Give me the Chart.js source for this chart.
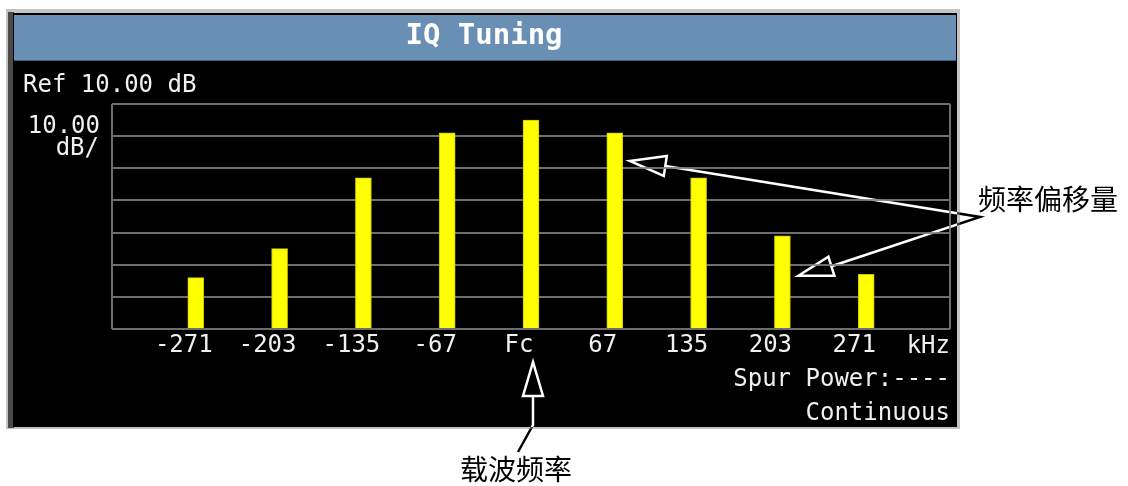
<!DOCTYPE html>
<html>
<head>
<meta charset="utf-8">
<script src="https://cdn.jsdelivr.net/npm/chart.js@4.4.1/dist/chart.umd.min.js"></script>
<style>
  html, body { margin: 0; padding: 0; background: #fff; }
  canvas { display: block; }
</style>
</head>
<body>
<canvas id="chart" width="1128" height="486"></canvas>
<script>
// ── DATA ──────────────────────────────────────────────────
const slots        = [1, 2, 3, 4, 5, 6, 7, 8, 9];
const offsetLabels = ["-271", "-203", "-135", "-67", "Fc", "67", "135", "203", "271"];
const levelsDb     = [-44, -35, -13, 1, 5, 1, -13, -31, -43];

const refLevel  = 10;   // Ref 10.00 dB
const dbPerDiv  = 10;   // 10.00 dB/
const divisions = 7;
const floorDb   = refLevel - dbPerDiv * divisions;

const MONO  = '"DejaVu Sans Mono", monospace';
const CJK   = '"Noto Sans CJK SC", sans-serif';
const GRID  = "#6e6e6e";
const TEXT  = "#f0f0f0";

// ── instrument screen frame + title ───────────────────────
const screenFrame = {
  id: "screenFrame",
  beforeDraw(chart) {
    const c = chart.ctx;
    c.save();
    c.fillStyle = "#ffffff";
    c.fillRect(0, 0, chart.width, chart.height);
    c.fillStyle = "#c4c4c4";
    c.fillRect(6, 9, 954, 420);
    c.fillStyle = "#4a4a4a";
    c.fillRect(8, 12, 6, 416);
    c.fillStyle = "#000000";
    c.fillRect(13, 13, 944, 414);
    c.fillStyle = "#6a8fb5";
    c.fillRect(14, 15, 942, 46);
    c.fillStyle = "#3d5f80";
    c.fillRect(14, 60, 942, 1);

    c.fillStyle = "#ffffff";
    c.font = "bold 29px " + MONO;
    c.textAlign = "center";
    c.textBaseline = "alphabetic";
    c.fillText("IQ Tuning", 484, 44);
    c.restore();
  },
  afterDraw(chart) {
    const c = chart.ctx;
    const area = chart.chartArea;
    const x = chart.scales.x, y = chart.scales.y;
    c.save();
    c.fillStyle = TEXT;
    c.font = "24px " + MONO;
    c.textBaseline = "alphabetic";
    c.textAlign = "left";
    c.fillText("Ref " + refLevel.toFixed(2) + " dB", 23, 92);
    c.textAlign = "right";
    c.fillText(dbPerDiv.toFixed(2), 100, 133);
    c.fillText("dB/", 99, 155);
    c.fillText("kHz", area.right, 353);
    c.fillText("Spur Power:----", area.right, 386);
    c.fillText("Continuous", area.right, 420);

    // callout labels
    c.fillStyle = "#000000";
    c.font = "28px " + CJK;
    c.textBaseline = "middle";
    c.textAlign = "left";
    const hub = { x: 980, y: 217 };
    c.fillText("频率偏移量", hub.x - 2, hub.y - 18);
    c.textAlign = "center";
    c.fillText("载波频率", 516, 469);

    // arrows, inverted against the background
    const px = v => x.getPixelForValue(v), py = v => y.getPixelForValue(v);
    const t1 = { x: px(6) + 15, y: py(levelsDb[5]) + 28 };
    const t2 = { x: px(8) + 16, y: py(levelsDb[7]) + 40 };
    const t3 = { x: px(5) + 2,  y: area.bottom + 33 };
    c.globalCompositeOperation = "difference";
    c.strokeStyle = "#ffffff";
    c.lineWidth = 2.5;
    c.lineJoin = "miter";
    c.beginPath();
    c.moveTo(t1.x, t1.y); c.lineTo(t1.x + 37, t1.y - 5); c.lineTo(t1.x + 34, t1.y + 15); c.closePath();
    c.moveTo(t1.x + 35.5, t1.y + 5); c.lineTo(hub.x, hub.y);
    c.lineTo(t2.x + 33, t2.y - 9.5);
    c.moveTo(t2.x, t2.y); c.lineTo(t2.x + 30, t2.y - 19); c.lineTo(t2.x + 36, t2.y); c.closePath();
    c.moveTo(t3.x, t3.y); c.lineTo(t3.x - 10, t3.y + 34); c.lineTo(t3.x + 10, t3.y + 34); c.closePath();
    c.moveTo(t3.x, t3.y + 34); c.lineTo(t3.x, t3.y + 63); c.lineTo(t3.x - 15, t3.y + 90);
    c.stroke();
    c.restore();
  }
};

// ── CHART ─────────────────────────────────────────────────
const ctx = document.getElementById("chart").getContext("2d");

new Chart(ctx, {
  type: "bar",
  data: {
    datasets: [{
      data: slots.map((s, i) => ({ x: s, y: levelsDb[i] })),
      base: floorDb,
      backgroundColor: "#ffff00",
      borderColor: "#c8c800",
      borderWidth: 1,
      borderSkipped: "bottom",
      barThickness: 16,
    }],
  },
  options: {
    responsive: false,
    animation: false,
    layout: { padding: { left: 112, top: 104, right: 178, bottom: 117 } },
    plugins: {
      legend: { display: false },
      tooltip: { enabled: false },
    },
    scales: {
      x: {
        type: "linear",
        min: 0,
        max: 10,
        offset: false,
        ticks: {
          stepSize: 1,
          autoSkip: false,
          maxRotation: 0,
          color: TEXT,
          font: { family: MONO, size: 24 },
          padding: 2,
          labelOffset: -12,
          callback: v => offsetLabels[v - 1] ?? "",
        },
        grid: {
          offset: false,
          drawTicks: false,
          lineWidth: 2,
          color: c => (c.tick && (c.tick.value === 0 || c.tick.value === 10)) ? GRID : "transparent",
        },
        border: { display: false },
        afterFit: a => { a.height = 40; },
      },
      y: {
        min: floorDb,
        max: refLevel,
        ticks: { stepSize: dbPerDiv, display: false },
        grid: { color: GRID, lineWidth: 2, drawTicks: false },
        border: { display: false },
        afterFit: a => { a.width = 0; },
      },
    },
  },
  plugins: [screenFrame],
});
</script>
</body>
</html>
